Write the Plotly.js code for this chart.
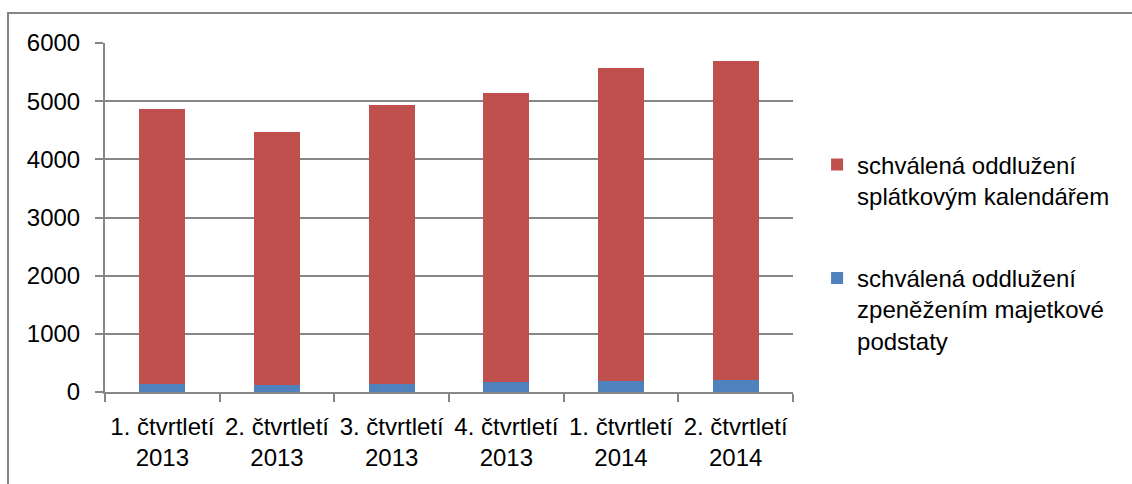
<!DOCTYPE html>
<html>
<head>
<meta charset="utf-8">
<script src="https://cdn.plot.ly/plotly-3.0.1.min.js"></script>
<style>html,body{margin:0;padding:0;background:#fff;}#chart{width:1132px;height:484px;}</style>
</head>
<body>
<div id="chart"></div>
<script>
const categories = ["1. čtvrtletí<br>2013", "2. čtvrtletí<br>2013", "3. čtvrtletí<br>2013", "4. čtvrtletí<br>2013", "1. čtvrtletí<br>2014", "2. čtvrtletí<br>2014"];
const zpenezenim = [143, 115, 132, 167, 184, 201];
const splatkovym = [4722, 4355, 4808, 4973, 5386, 5489];
const seriesNames = ["schválená oddlužení<br>zpeněžením majetkové<br>podstaty", "schválená oddlužení<br>splátkovým kalendářem"];
const yTicks = [0, 1000, 2000, 3000, 4000, 5000, 6000];

const font = {family: "Liberation Sans, Arial, sans-serif", size: 24, color: "#000"};
const grey = "#868686";

const traces = [
  {type: "bar", x: categories, y: zpenezenim, name: seriesNames[0], legendgroup: "b", legendrank: 2,
   marker: {color: "#4F81BD", line: {width: 0}}},
  {type: "bar", x: categories, y: splatkovym, name: seriesNames[1], legendgroup: "r", legendrank: 1,
   marker: {color: "#C0504D", line: {width: 0}}}
];

const layout = {
  width: 1132, height: 484,
  margin: {l: 105, r: 339, t: 43, b: 92},
  barmode: "stack",
  bargap: 0.6,
  paper_bgcolor: "#fff", plot_bgcolor: "#fff",
  font: font,
  showlegend: true,
  legend: {x: 1.035, xanchor: "left", y: 0.4, yanchor: "middle", valign: "top",
           traceorder: "grouped", tracegroupgap: 48, font: font, itemwidth: 30},
  xaxis: {type: "category", showgrid: false, showline: true, linecolor: grey, linewidth: 2,
          ticks: "outside", tickson: "boundaries", ticklen: 8, tickcolor: grey, tickwidth: 2,
          tickangle: 0, ticklabelstandoff: 12, tickfont: font, zeroline: false, fixedrange: true},
  yaxis: {range: [0, 6000], tickvals: yTicks, ticktext: yTicks.map(String),
          showgrid: true, gridcolor: grey, gridwidth: 2,
          showline: true, linecolor: grey, linewidth: 2,
          ticks: "outside", ticklen: 8, tickcolor: grey, tickwidth: 2,
          ticklabelstandoff: 10, tickfont: font, zeroline: false, fixedrange: true},
  shapes: [{type: "rect", xref: "paper", yref: "paper", x0: -0.141, x1: 1.6, y0: -0.4, y1: 1.086,
            line: {color: grey, width: 2}, fillcolor: "rgba(0,0,0,0)", layer: "below"}]
};

Plotly.newPlot("chart", traces, layout, {staticPlot: true, displayModeBar: false});
</script>
</body>
</html>
